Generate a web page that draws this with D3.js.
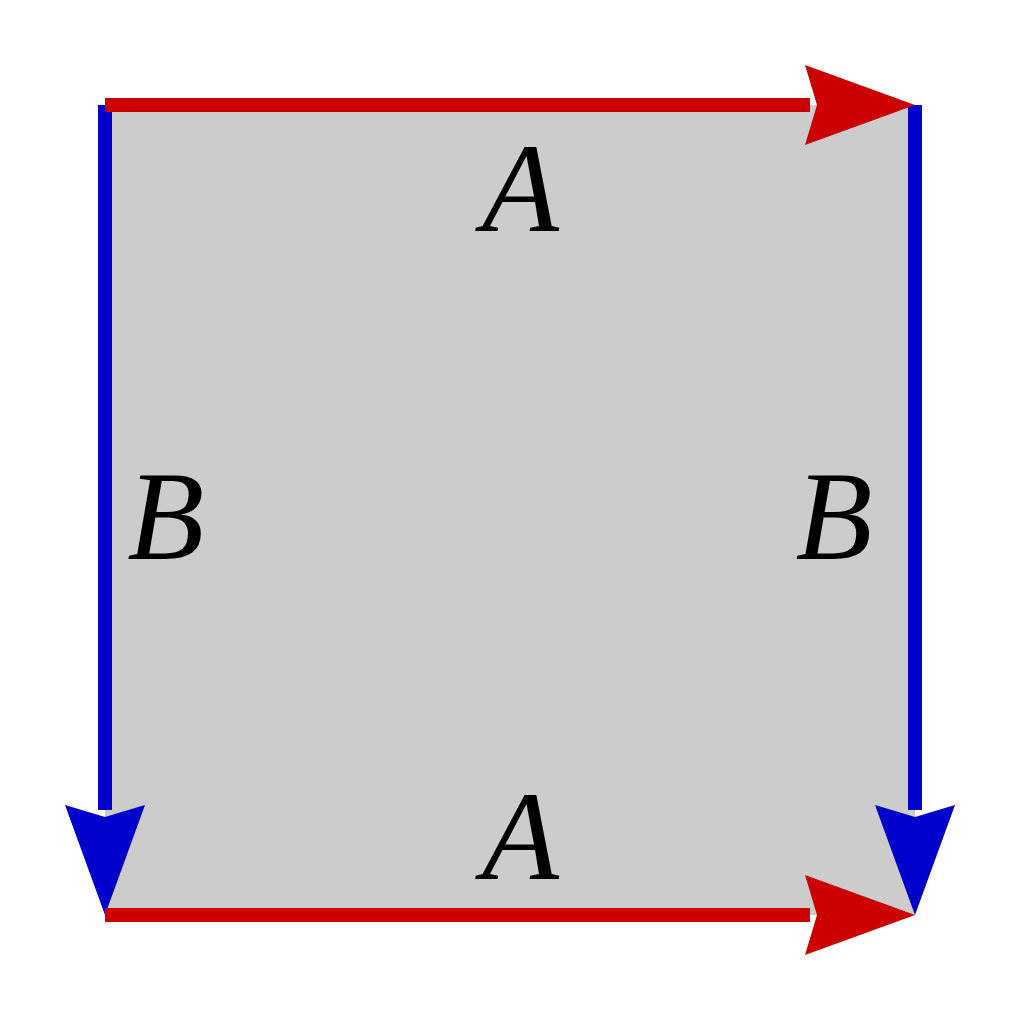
<!DOCTYPE html>
<html>
<head>
<meta charset="utf-8">
<script src="https://cdn.jsdelivr.net/npm/d3@7"></script>
<style>
  html, body { margin: 0; padding: 0; background: #fff; }
  svg { display: block; }
</style>
</head>
<body>
<svg width="1024" height="1024"></svg>
<script>
// square corners in unit coordinates, edges identified by label
var edgeNames = ["A", "B", "B", "A"];
var edgeFrom = [[0, 0], [0, 0], [1, 0], [0, 1]];
var edgeTo   = [[1, 0], [0, 1], [1, 1], [1, 1]];
var edgeColors = {A: "#cc0000", B: "#0000cc"};
var labelPos = [[0.513, 0.155], [0.075, 0.56], [0.90, 0.56], [0.513, 0.955]];

var svg = d3.select("svg");
var x = d3.scaleLinear().domain([0, 1]).range([105, 915]);
var y = d3.scaleLinear().domain([0, 1]).range([105, 915]);

var headLen = 110, headHalf = 40, sw = 14;

svg.append("rect")
  .attr("x", x(0)).attr("y", y(0))
  .attr("width", x(1) - x(0)).attr("height", y(1) - y(0))
  .attr("fill", "#cccccc");

var order = [1, 2, 0, 3];
order.forEach(function(i) {
  var x0 = x(edgeFrom[i][0]), y0 = y(edgeFrom[i][1]);
  var x1 = x(edgeTo[i][0]), y1 = y(edgeTo[i][1]);
  var len = Math.hypot(x1 - x0, y1 - y0);
  var ux = (x1 - x0) / len, uy = (y1 - y0) / len;
  var bx = x1 - ux * headLen, by = y1 - uy * headLen;
  var c = edgeColors[edgeNames[i]];
  svg.append("line")
    .attr("x1", x0).attr("y1", y0)
    .attr("x2", bx + ux * 5).attr("y2", by + uy * 5)
    .attr("stroke", c).attr("stroke-width", sw);
  // arrowhead with slight notch
  var nx = -uy, ny = ux;
  var pts = [
    [x1, y1],
    [bx + nx * headHalf, by + ny * headHalf],
    [bx + ux * 12, by + uy * 12],
    [bx - nx * headHalf, by - ny * headHalf]
  ];
  svg.append("path")
    .attr("d", d3.line()(pts) + "Z")
    .attr("fill", c);
});

svg.selectAll("text.lbl")
  .data(edgeNames)
  .enter().append("text")
  .attr("class", "lbl")
  .attr("x", function(d, i) { return x(labelPos[i][0]); })
  .attr("y", function(d, i) { return y(labelPos[i][1]); })
  .attr("text-anchor", "middle")
  .attr("font-family", "Liberation Serif, serif")
  .attr("font-style", "italic")
  .attr("font-size", 126)
  .text(function(d) { return d; });
</script>
</body>
</html>
